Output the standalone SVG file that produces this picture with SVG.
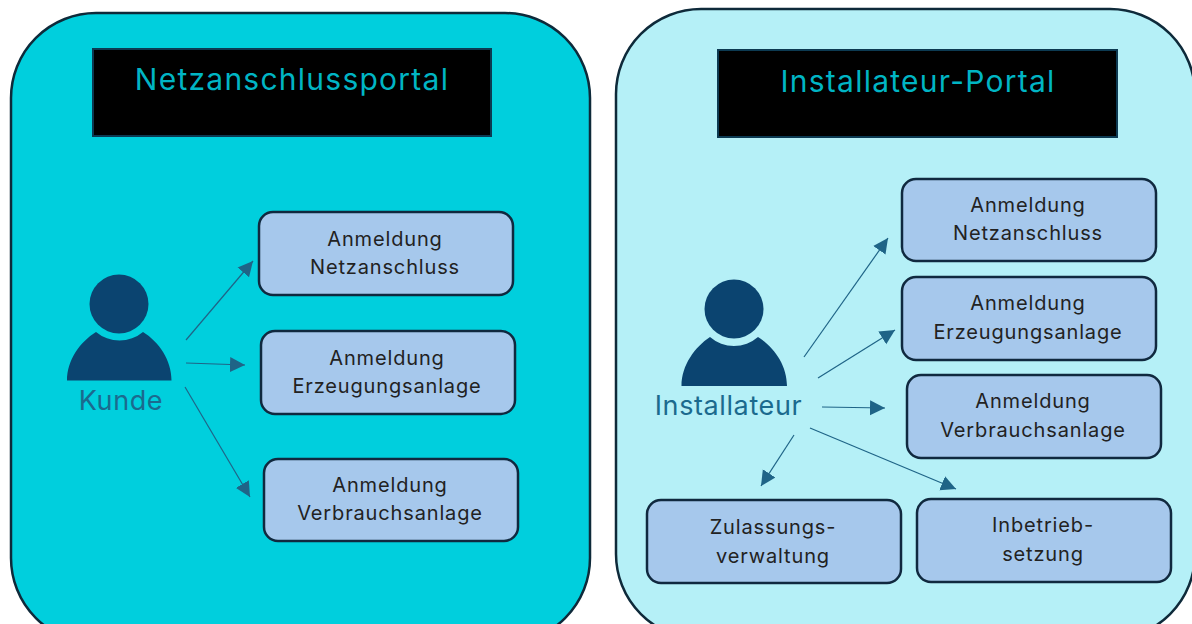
<svg xmlns="http://www.w3.org/2000/svg" width="1192" height="624" viewBox="0 0 1192 624">
<style>
.p{stroke:#0e2a3a;stroke-width:2.5}
.t{fill:#000;stroke:#0c3a52;stroke-width:2}
.tt{font:400 30px Inter,"Liberation Sans",sans-serif;fill:#00b5c4;text-anchor:middle;letter-spacing:1.25px}
.b{fill:#a6c8ec;stroke:#10293f;stroke-width:2.5}
.l{font:400 20px Inter,"Liberation Sans",sans-serif;fill:#222;text-anchor:middle;letter-spacing:.85px}
.c{stroke:#1f6487;stroke-width:1.2;fill:none;marker-end:url(#a)}
.u{fill:#0b4470}
.n{font:400 27px Inter,"Liberation Sans",sans-serif;fill:#1b6a8e;text-anchor:middle;letter-spacing:.6px}
</style>
<defs><marker id="a" markerUnits="userSpaceOnUse" markerWidth="16" markerHeight="16" refX="15" refY="8" orient="auto"><path d="M0 0.5L15 8L0 15.5z" fill="#1f6487"/></marker></defs>
<rect width="1192" height="624" fill="#fff"/>
<g id="netz"><rect class="p" x="11" y="13" width="579" height="630" rx="85" fill="#00cfdd"/><rect class="t" x="93" y="49" width="398" height="87"/><text class="tt" x="292" y="90">Netzanschlussportal</text></g>
<g id="inst"><rect class="p" x="616" y="9" width="579" height="630" rx="85" fill="#b5f0f7"/><rect class="t" x="718" y="50" width="399" height="87"/><text class="tt" x="918" y="92">Installateur-Portal</text></g>
<g id="kunde"><circle class="u" cx="119" cy="304" r="29.5"/><path class="u" d="M67 380.500C67 360 80 342 96 332A36.500 36.500 0 0 0 143 332C159 342 171.500 360 171.500 380.500Z"/><text class="n" x="121" y="410">Kunde</text></g>
<g id="installateur"><circle class="u" cx="734" cy="309" r="29.500"/><path class="u" d="M681.500 386C681.500 365 695 347 710 337A36.500 36.500 0 0 0 758 337C774 347 787 365 787 386Z"/><text class="n" x="728.500" y="415">Installateur</text></g>
<g id="k1"><rect class="b" x="259" y="212" width="254" height="83" rx="14"/><text class="l" x="385" y="246">Anmeldung</text><text class="l" x="385" y="274">Netzanschluss</text></g>
<g id="k2"><rect class="b" x="261" y="331" width="254" height="83" rx="14"/><text class="l" x="387" y="365">Anmeldung</text><text class="l" x="387" y="393">Erzeugungsanlage</text></g>
<g id="k3"><rect class="b" x="264" y="459" width="254" height="82" rx="14"/><text class="l" x="390" y="492">Anmeldung</text><text class="l" x="390" y="520">Verbrauchsanlage</text></g>
<g id="i1"><rect class="b" x="902" y="179" width="254" height="82" rx="14"/><text class="l" x="1028" y="212">Anmeldung</text><text class="l" x="1028" y="240">Netzanschluss</text></g>
<g id="i2"><rect class="b" x="902" y="277" width="254" height="83" rx="14"/><text class="l" x="1028" y="310">Anmeldung</text><text class="l" x="1028" y="339">Erzeugungsanlage</text></g>
<g id="i3"><rect class="b" x="907" y="375" width="254" height="83" rx="14"/><text class="l" x="1033" y="408">Anmeldung</text><text class="l" x="1033" y="437">Verbrauchsanlage</text></g>
<g id="i4"><rect class="b" x="647" y="500" width="254" height="83" rx="14"/><text class="l" x="773" y="534">Zulassungs-</text><text class="l" x="773" y="563">verwaltung</text></g>
<g id="i5"><rect class="b" x="917" y="499" width="254" height="83" rx="14"/><text class="l" x="1043" y="532">Inbetrieb-</text><text class="l" x="1043" y="561">setzung</text></g>
<g id="connectors">
<path class="c" d="M186 340L253 261"/><path class="c" d="M186 363L245 365"/><path class="c" d="M185 387L250 497"/>
<path class="c" d="M804 357L888 238"/><path class="c" d="M818 378L895 330"/><path class="c" d="M822 407L885 408"/><path class="c" d="M794 435L761 486"/><path class="c" d="M810 428L956 489"/>
</g>
</svg>
